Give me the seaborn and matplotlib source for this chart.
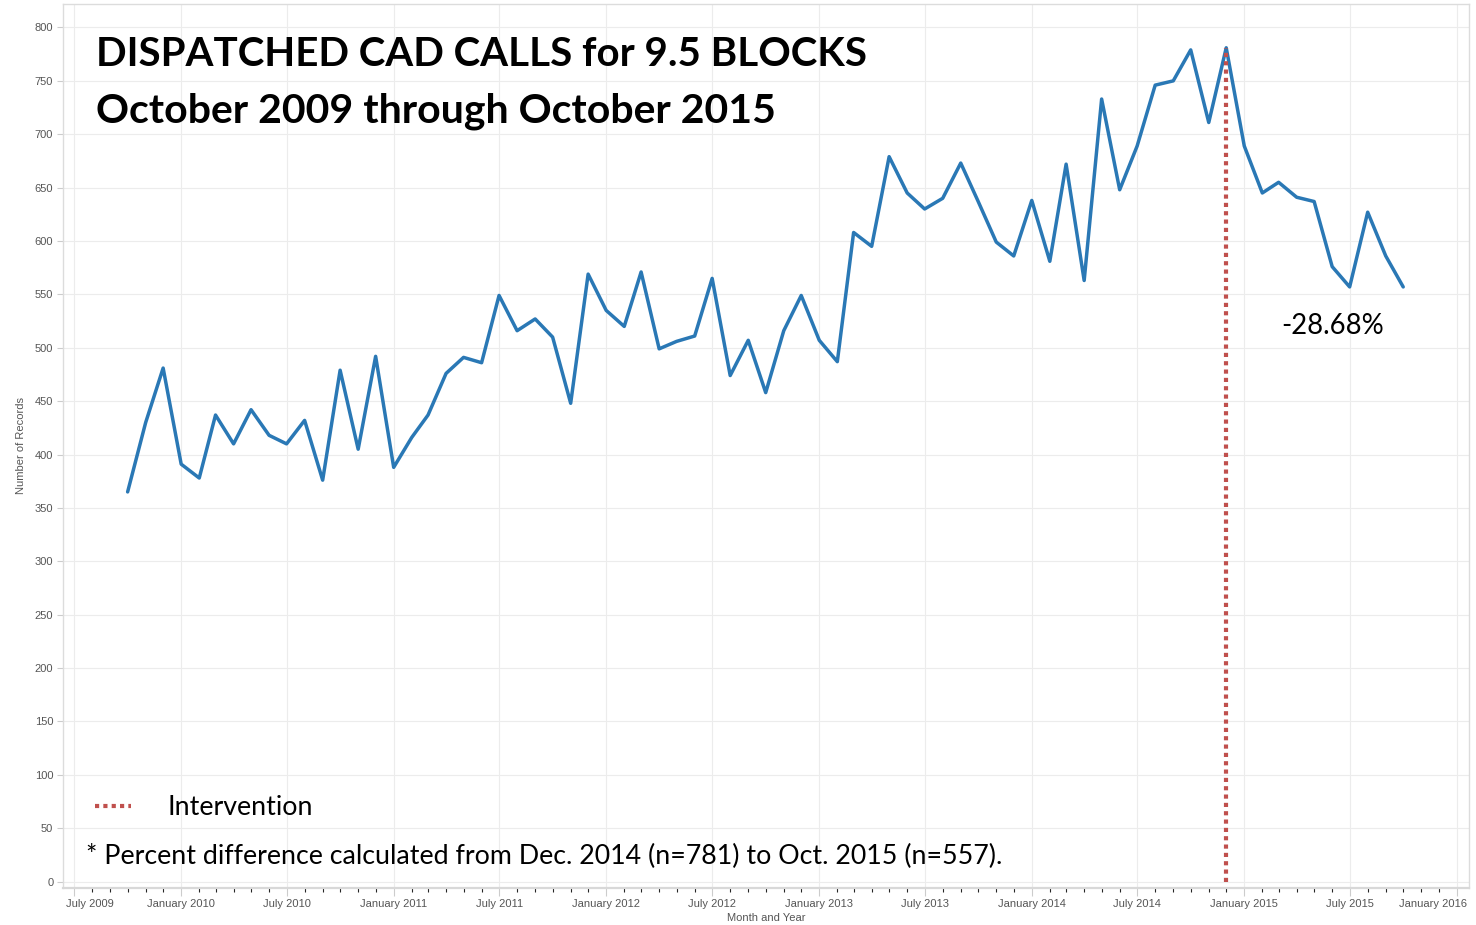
import pandas as pd
import numpy as np
import seaborn as sns
import matplotlib.pyplot as plt
import matplotlib.dates as mdates
import matplotlib.transforms as mtransforms

# Monthly dispatched CAD calls, Oct 2009 - Oct 2015
start_month = '2009-10-01'
calls = [365, 430, 481,
         391, 378, 437, 410, 442, 418, 410, 432, 376, 479, 405, 492,
         388, 416, 437, 476, 491, 486, 549, 516, 527, 510, 448, 569,
         535, 520, 571, 499, 506, 511, 565, 474, 507, 458, 516, 549,
         507, 487, 608, 595, 679, 645, 630, 640, 673, 637, 599, 586,
         638, 581, 672, 563, 733, 648, 689, 746, 750, 779, 711, 781,
         689, 645, 655, 641, 637, 576, 557, 627, 586, 557]
intervention_month = '2014-12-01'
intervention_value = 781
pct_label = '-28.68%'
title_lines = ['DISPATCHED CAD CALLS for 9.5 BLOCKS', 'October 2009 through October 2015']
footnote = '* Percent difference calculated from Dec. 2014 (n=781) to Oct. 2015 (n=557).'
y_ticks = list(range(0, 801, 50))

df = pd.DataFrame({'month': pd.date_range(start_month, periods=len(calls), freq='MS'),
                   'records': calls})

sns.set_style('whitegrid', {'grid.color': '#ececec', 'axes.edgecolor': '#dcdcdc'})
plt.rcParams['font.family'] = ['Liberation Sans', 'DejaVu Sans']

fig = plt.figure(figsize=(14.76, 9.25), dpi=100)
ax = fig.add_axes([63 / 1476, 1 - 888 / 925, (1469 - 63) / 1476, (888 - 4) / 925])

sns.lineplot(data=df, x='month', y='records', ax=ax, color='#2a78b5', linewidth=2.5)

# intervention line
red = '#c0504d'
ax.plot([pd.Timestamp(intervention_month)] * 2, [0, intervention_value], color=red,
        linewidth=3, linestyle=(0, (1, 1)), dash_capstyle='butt')

ax.set_xlim(pd.Timestamp('2009-06-12'), pd.Timestamp('2016-01-22'))
ax.set_ylim(-6, 822)
ax.set_yticks(y_ticks)
ax.xaxis.set_major_locator(mdates.MonthLocator(bymonth=[1, 7]))
ax.xaxis.set_minor_locator(mdates.MonthLocator())
ax.xaxis.set_major_formatter(mdates.DateFormatter('%B %Y'))
ax.tick_params(axis='both', labelsize=8, labelcolor='#555555', color='#cccccc')
ax.tick_params(axis='x', which='major', length=6, width=0.8, direction='out', bottom=True, pad=2)
ax.tick_params(axis='x', which='minor', length=3, width=0.8, direction='out', bottom=True)
ax.tick_params(axis='y', length=4, width=0.8, left=True, pad=3)
ax.grid(which='minor', visible=False)
ax.set_xlabel('Month and Year', fontsize=8, color='#555555', labelpad=3)
ax.set_ylabel('Number of Records', fontsize=8, color='#555555', labelpad=6)
ax.spines['bottom'].set_linewidth(1.6)
ax.spines['bottom'].set_color('#d8d8d8')
for s in ['left', 'top', 'right']:
    ax.spines[s].set_linewidth(1.0)

# first and last date labels are kept inside the axis edges, as in the original
fig.canvas.draw()
labels = ax.get_xticklabels()
first, last = labels[0], labels[-1]
first.set_horizontalalignment('left')
first.set_transform(first.get_transform() + mtransforms.ScaledTranslation(-0.08, 0, fig.dpi_scale_trans))
last.set_horizontalalignment('right')
last.set_transform(last.get_transform() + mtransforms.ScaledTranslation(0.1, 0, fig.dpi_scale_trans))

# titles and annotations
cal = ['Lato', 'DejaVu Sans']
fig.text(96 / 1476, 1 - 66 / 925, title_lines[0], fontsize=29, fontweight='bold',
         family=cal, va='baseline', color='black')
fig.text(96 / 1476, 1 - 122 / 925, title_lines[1], fontsize=29.5, fontweight='bold',
         family=cal, va='baseline', color='black')
fig.text(1281 / 1476, 1 - 334 / 925, pct_label, fontsize=19.8, family=cal, va='baseline',
         color='black')

# legend
fig.lines.append(plt.Line2D([95 / 1476, 131 / 1476], [1 - 806 / 925] * 2, transform=fig.transFigure,
                            color=red, linewidth=3, linestyle=(0, (1, 1))))
fig.text(168 / 1476, 1 - 815 / 925, 'Intervention', fontsize=19.3, family=cal, va='baseline',
         color='black')
fig.text(86 / 1476, 1 - 864 / 925, footnote, fontsize=19.3, family=cal, va='baseline',
         color='black')

fig.savefig('out.png', dpi=100)
